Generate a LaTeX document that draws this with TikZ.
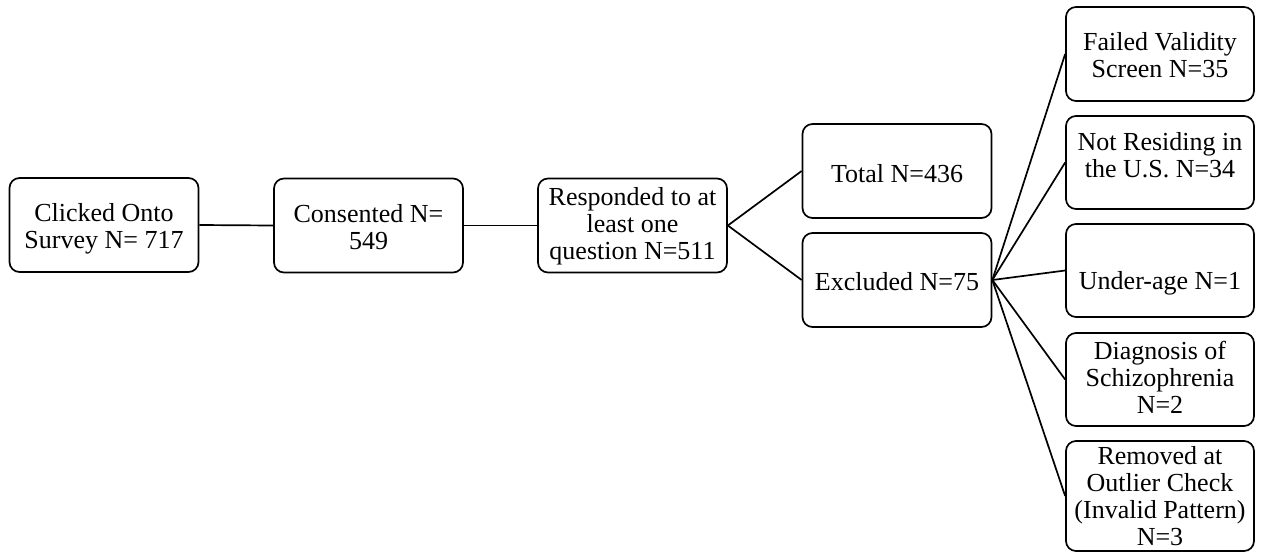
\documentclass[tikz,border=0pt]{standalone}
\usepackage{fontspec}
\setmainfont{Liberation Serif}
\newcommand\tx[2]{\raisebox{-#1pt}[\height][\depth]{\begin{tabular}{@{}c@{}}#2\end{tabular}}}
\begin{document}
\begin{tikzpicture}[x=1pt,y=-1pt,
  box/.style={draw, line width=1.7pt, rounded corners=10pt, inner sep=0pt,
    minimum width=189pt, minimum height=94pt, font=\fontsize{26}{27}\selectfont},
  link/.style={line width=1.7pt}]
\useasboundingbox (0,0) rectangle (1262,552);
\node[box] (b1) at (104,225) {\tx{5}{Clicked Onto\\Survey N= 717}};
\node[box] (b2) at (368.5,225.5) {\tx{5}{Consented N=\\549}};
\node[box] (b3) at (632.5,225.5) {\tx{2}{Responded to at\\least one\\question N=511}};
\node[box] (tot) at (897,171) {\tx{5.6}{Total N=436}};
\node[box] (exc) at (897,280) {\tx{4.6}{Excluded N=75}};
\node[box, minimum width=188pt] (f1) at (1160,54) {\tx{5}{Failed Validity\\Screen N=35}};
\node[box, minimum width=188pt, minimum height=93pt] (f2) at (1160,162.5) {\tx{-4}{Not Residing in\\the U.S. N=34}};
\node[box, minimum width=188pt, minimum height=93pt] (f3) at (1160,270.5) {\tx{14}{Under-age N=1}};
\node[box, minimum width=188pt, minimum height=93pt] (f4) at (1160,379.5) {\tx{2}{Diagnosis of\\Schizophrenia\\N=2}};
\node[box, minimum width=188pt, minimum height=110pt] (f5) at (1160,496) {\tx{4}{Removed at\\Outlier Check\\(Invalid Pattern)\\N=3}};
\draw[link] (b1.east) -- (b2.west);
\draw[link] (b2.east) -- (b3.west);
\draw[link] (b3.east) -- (tot.west);
\draw[link] (b3.east) -- (exc.west);
\foreach \n in {f1,f2,f3,f4,f5} \draw[link] (exc.east) -- (\n.west);
\end{tikzpicture}
\end{document}
